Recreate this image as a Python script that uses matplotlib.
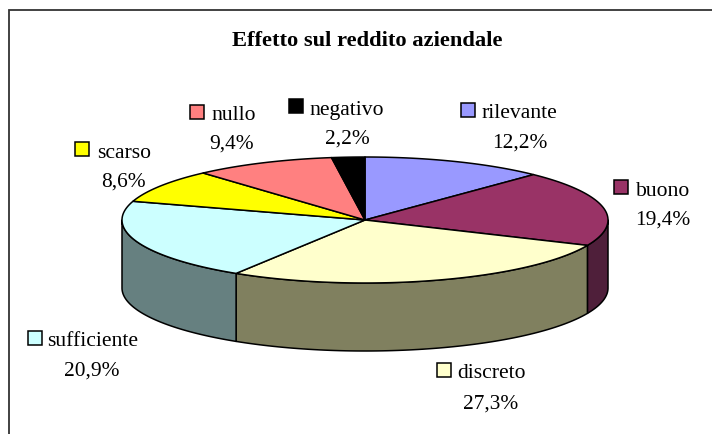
import numpy as np
import matplotlib
matplotlib.use('Agg')
import matplotlib.pyplot as plt
from matplotlib.patches import Polygon, Rectangle

categories = ['rilevante', 'buono', 'discreto', 'sufficiente', 'scarso', 'nullo', 'negativo']
values = [12.2, 19.4, 27.3, 20.9, 8.6, 9.4, 2.2]
value_labels = ['12,2%', '19,4%', '27,3%', '20,9%', '8,6%', '9,4%', '2,2%']
colors = ['#9999FF', '#993366', '#FFFFCC', '#CCFFFF', '#FFFF00', '#FF8080', '#000000']
side_colors = ['#5C5C99', '#4F1F3A', '#80805F', '#668080', '#808000', '#804040', '#000000']
title = 'Effetto sul reddito aziendale'
legend_pos = [(468, 110), (621, 187), (444, 370), (35, 338), (82, 149), (197, 112), (296, 106)]
text_pos = [(519, 114, 520, 143), (663, 191, 663, 220), (492, 374, 491, 404), (93, 342, 92, 371),
            (124, 154, 123, 182), (234, 116, 232, 144), (347, 110, 347, 139)]

W, H = 712, 434
CX, CY, RX, RY, DEPTH = 365, 220, 243, 63, 68

fig = plt.figure(figsize=(W / 100, H / 100), dpi=100, facecolor='white')
ax = fig.add_axes([0, 0, 1, 1])
ax.set_xlim(0, W)
ax.set_ylim(H, 0)
ax.axis('off')
plt.rcParams['font.family'] = 'Liberation Serif'

# frame: only left and top edges are visible in the crop
ax.plot([9, 9, W], [H, 10, 10], color='#333333', lw=1.3, solid_joinstyle='miter', zorder=1)


def pt(a, dy=0.0):
    a = np.asarray(a)
    return np.column_stack([CX + RX * np.sin(a), CY - RY * np.cos(a) + dy])


cum = np.concatenate([[0], np.cumsum(values)]) / sum(values) * 2 * np.pi

# side walls: only the part of each wedge that faces the viewer (90..270 deg)
for i in range(len(values)):
    lo, hi = max(cum[i], np.pi / 2), min(cum[i + 1], 3 * np.pi / 2)
    if hi <= lo:
        continue
    arc = np.linspace(lo, hi, 80)
    poly = np.vstack([pt(arc), pt(arc[::-1], DEPTH)])
    ax.add_patch(Polygon(poly, closed=True, fc=side_colors[i], ec='black', lw=1.1,
                         joinstyle='round', zorder=2))

# top faces
for i in range(len(values)):
    arc = np.linspace(cum[i], cum[i + 1], 120)
    poly = np.vstack([[CX, CY], pt(arc)])
    ax.add_patch(Polygon(poly, closed=True, fc=colors[i], ec='black', lw=1.1,
                         joinstyle='round', zorder=3))

# labels
for i, name in enumerate(categories):
    lx, ly = legend_pos[i]
    ax.add_patch(Rectangle((lx - 7, ly - 7), 14, 14, fc=colors[i], ec='black', lw=1.1, zorder=4))
    x1, y1, x2, y2 = text_pos[i]
    ax.text(x1, y1, name, ha='center', va='center', fontsize=15.6, color='black', zorder=5)
    ax.text(x2, y2, value_labels[i], ha='center', va='center', fontsize=15.4, color='black', zorder=5)

ax.text(367, 41, title, ha='center', va='center', fontsize=16.2, fontweight='bold', color='black')

fig.savefig('out.png', dpi=100)
